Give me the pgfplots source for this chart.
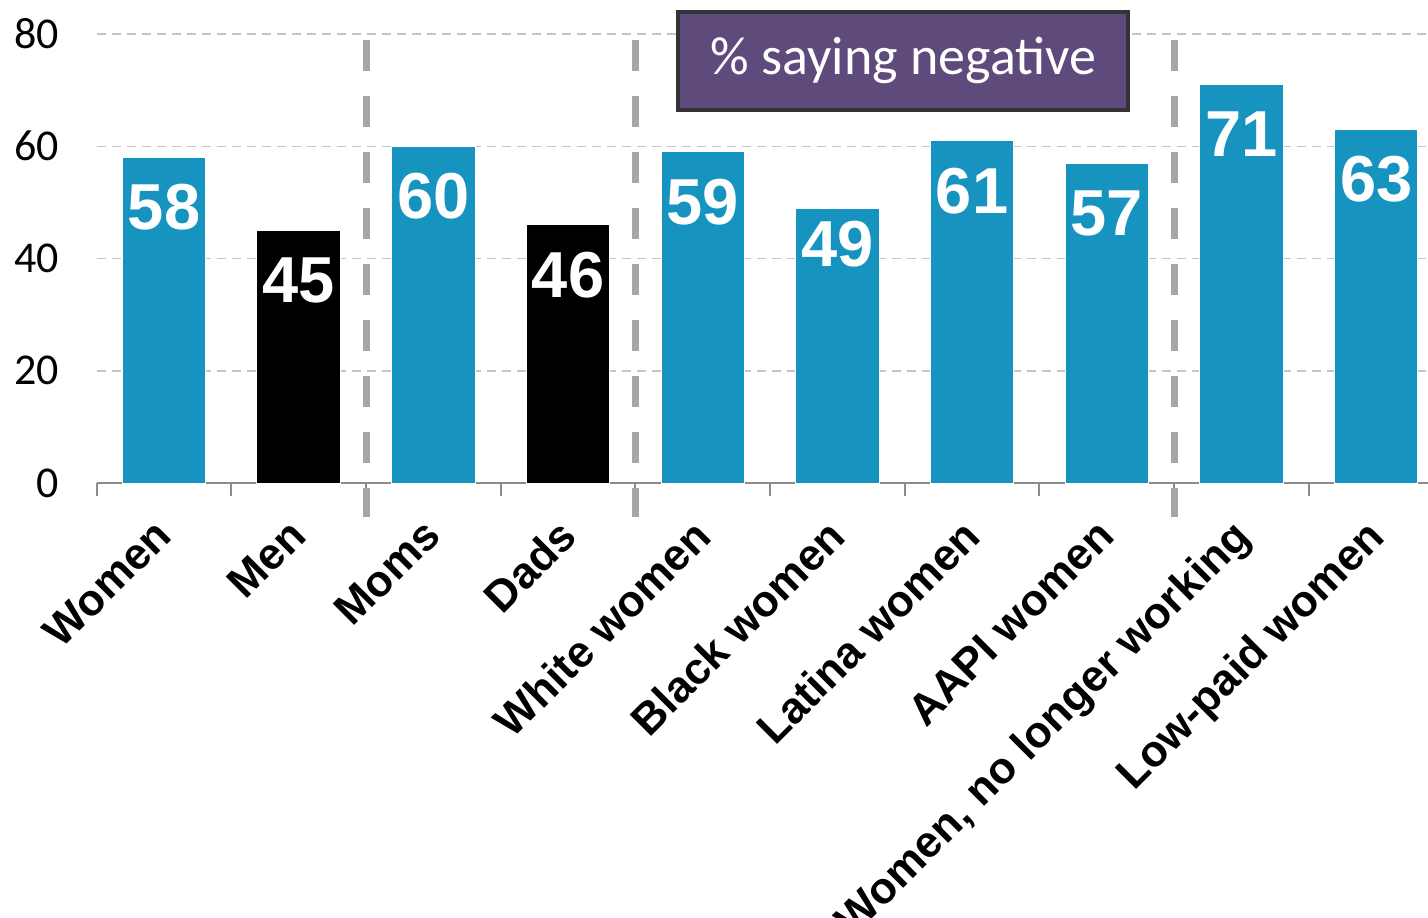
\documentclass[border=0pt]{standalone}
\usepackage{pgfplots}
\pgfplotsset{compat=1.18}
\usepackage{fontspec}
\setmainfont{Carlito}
\newfontfamily\arial{Liberation Sans}
\usetikzlibrary{calc}
\definecolor{barblue}{HTML}{1793C0}
\definecolor{boxpurple}{HTML}{5F4A7C}
\definecolor{boxborder}{HTML}{333333}
\definecolor{sepgray}{HTML}{A6A6A6}
\definecolor{gridgray}{HTML}{C4C4C4}
\definecolor{axisgray}{HTML}{8C8C8C}
\begin{document}
\begin{tikzpicture}
\begin{axis}[
  scale only axis, width=665.6pt, height=224.5pt,
  xmin=-0.5, xmax=9.385, ymin=0, ymax=80,
  ybar, bar width=0.62, bar shift=0pt,
  axis x line*=bottom, axis y line*=left,
  y axis line style={draw=none},
  x axis line style={color=axisgray, line width=1pt, -},
  ytick={0,20,40,60,80}, ytick style={draw=none},
  yticklabel style={font=\fontsize{22}{22}\selectfont, xshift=-15.5pt},
  /pgf/number format/assume math mode=true,
  ymajorgrids, grid style={color=gridgray, line width=0.75pt, dash pattern=on 4.5pt off 3pt},
  xtick={0,...,9},
  xticklabels={Women,Men,Moms,Dads,White women,Black women,Latina women,AAPI women,{Women, no longer working},Low-paid women},
  minor xtick={-0.5,0.5,1.5,2.5,3.5,4.5,5.5,6.5,7.5,8.5},
  major tick length=0pt, minor tick length=6.5pt, xtick align=outside,
  minor x tick style={color=axisgray, line width=1pt},
  xticklabel style={font=\arial\bfseries\fontsize{22}{22}\selectfont, xshift=-6pt, yshift=-16.5pt, rotate=45, anchor=north east, inner sep=0pt},
  clip=false,
  nodes near coords,
  every node near coord/.append style={font=\arial\bfseries\fontsize{32.5}{32.5}\selectfont, color=white, anchor=center, yshift=-25pt},
]
\addplot[fill=barblue, draw=white, line width=0.5pt] coordinates {(0,58) (2,60) (4,59) (6,61) (7,57) (8,71) (9,63)};
\addplot[fill=barblue, draw=white, line width=0.5pt, every node near coord/.append style={yshift=7pt}] coordinates {(5,49)};
\addplot[fill=black, draw=white, line width=0.5pt] coordinates {(1,45) (3,46)};
\draw[sepgray, line width=3.5pt, dash pattern=on 15.5pt off 12.5pt] (axis cs:1.5,78.9) -- (axis cs:1.5,-6.1);
\draw[sepgray, line width=3.5pt, dash pattern=on 15.5pt off 12.5pt] (axis cs:3.5,78.9) -- (axis cs:3.5,-6.1);
\draw[sepgray, line width=3.5pt, dash pattern=on 15.5pt off 12.5pt] (axis cs:7.5,78.9) -- (axis cs:7.5,-6.1);
\node[fill=boxpurple, draw=boxborder, line width=2pt, minimum width=225pt, minimum height=49pt, text=white, font=\fontsize{27}{27}\selectfont, inner sep=0pt] at (axis cs:5.49,75.2) {\% saying negative};
\end{axis}
\pgfresetboundingbox
\path ($(current axis.south west)+(-48.35pt,-217pt)$) rectangle ($(current axis.north east)+(0pt,17pt)$);
\end{tikzpicture}
\end{document}
